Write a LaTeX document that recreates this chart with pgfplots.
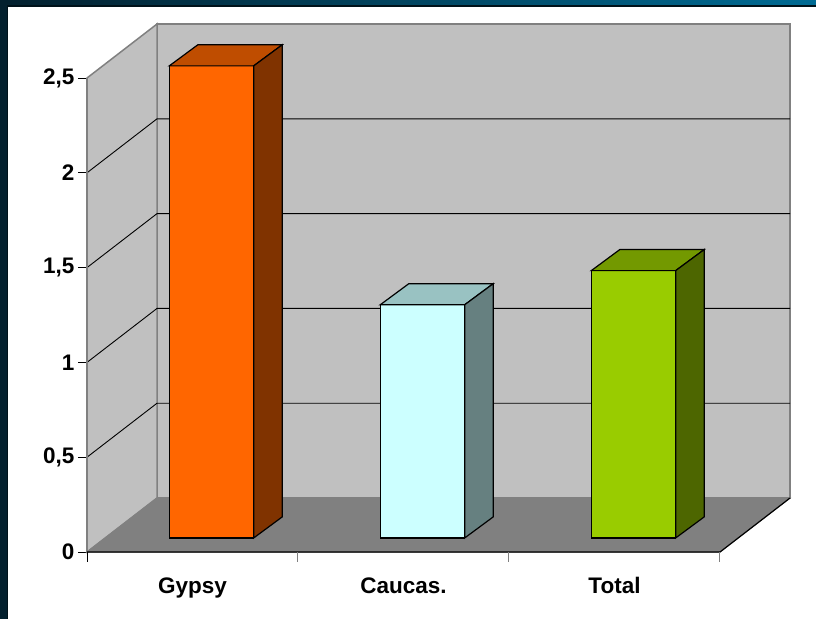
\documentclass[border=0pt]{standalone}
\usepackage{fontspec}
\setmainfont{Liberation Sans}
\usepackage{pgfplots}
\pgfplotsset{compat=1.18}
\definecolor{frameA}{HTML}{03202E}
\definecolor{frameB}{HTML}{006B94}
\definecolor{frameD}{HTML}{00121A}
\definecolor{wall}{HTML}{C0C0C0}
\definecolor{wallE}{HTML}{808080}
\definecolor{floorc}{HTML}{808080}
\definecolor{gypF}{HTML}{FF6600}
\definecolor{gypT}{HTML}{BF4D00}
\definecolor{gypS}{HTML}{803300}
\definecolor{cauF}{HTML}{CCFFFF}
\definecolor{cauT}{HTML}{99C2C2}
\definecolor{cauS}{HTML}{668080}
\definecolor{totF}{HTML}{99CC00}
\definecolor{totT}{HTML}{739900}
\definecolor{totS}{HTML}{4D6600}
\begin{document}
\begin{tikzpicture}[x=1pt,y=1pt]
\useasboundingbox (0,0) rectangle (816,-619);
\fill[white] (0,0) rectangle (816,-619);
\shade[left color=frameA, right color=frameB] (0,0) rectangle (816,-6);
\fill[frameA] (0,0) rectangle (8,-619);
\draw[frameD, line width=1.2pt] (7.4,-6) -- (816,-6);
\draw[frameD, line width=1.2pt] (7.4,-6) -- (7.4,-619);
\coordinate (A) at (87,-552);
\begin{axis}[at={(A)}, anchor=south west, scale only axis,
  width=703pt, height=528pt,
  xmin=-0.5, xmax=2.8319, ymin=0, ymax=2.7848,
  axis lines*=left, axis line style={draw=none}, clip=false,
  xtick={0,1,2}, xticklabels={Gypsy,Caucas.,Total},
  ytick={0,0.5,1,1.5,2,2.5}, yticklabels={0,{0,5},1,{1,5},2,{2,5}},
  tick align=outside, major tick length=9pt,
  xtick style={draw=none}, ytick style={black, line width=1pt},
  tick label style={font=\fontsize{22.5}{26}\selectfont\bfseries},
  xticklabel style={yshift=-13pt}]
% walls
\addplot[fill=wall, draw=wallE, line width=1.5pt] coordinates {(-0.1681,0.2848) (2.8319,0.2848) (2.8319,2.7848) (-0.1681,2.7848)} -- cycle;
\addplot[fill=wall, draw=wallE, line width=1.5pt] coordinates {(-0.5,0) (-0.5,2.5) (-0.1681,2.7848) (-0.1681,0.2848)} -- cycle;
\addplot[fill=floorc, draw=wallE, line width=1pt] coordinates {(-0.5,0) (2.5,0) (2.8319,0.2848) (-0.1681,0.2848)} -- cycle;
% gridlines
\addplot[black, line width=0.9pt] coordinates {(-0.5,0.5) (-0.1681,0.7848) (2.8319,0.7848)};
\addplot[black, line width=0.9pt] coordinates {(-0.5,1.0) (-0.1681,1.2848) (2.8319,1.2848)};
\addplot[black, line width=0.9pt] coordinates {(-0.5,1.5) (-0.1681,1.7848) (2.8319,1.7848)};
\addplot[black, line width=0.9pt] coordinates {(-0.5,2.0) (-0.1681,2.2848) (2.8319,2.2848)};
% Gypsy 2.49
\addplot[fill=gypF, draw=black, line width=1.2pt] coordinates {(-0.11,0.074) (0.29,0.074) (0.29,2.564) (-0.11,2.564)} -- cycle;
\addplot[fill=gypT, draw=black, line width=1.2pt] coordinates {(-0.11,2.564) (0.29,2.564) (0.425,2.675) (0.025,2.675)} -- cycle;
\addplot[fill=gypS, draw=black, line width=1.2pt] coordinates {(0.29,0.074) (0.425,0.185) (0.425,2.675) (0.29,2.564)} -- cycle;
% Caucas. 1.23
\addplot[fill=cauF, draw=black, line width=1.2pt] coordinates {(0.89,0.074) (1.29,0.074) (1.29,1.304) (0.89,1.304)} -- cycle;
\addplot[fill=cauT, draw=black, line width=1.2pt] coordinates {(0.89,1.304) (1.29,1.304) (1.425,1.415) (1.025,1.415)} -- cycle;
\addplot[fill=cauS, draw=black, line width=1.2pt] coordinates {(1.29,0.074) (1.425,0.185) (1.425,1.415) (1.29,1.304)} -- cycle;
% Total 1.41
\addplot[fill=totF, draw=black, line width=1.2pt] coordinates {(1.89,0.074) (2.29,0.074) (2.29,1.484) (1.89,1.484)} -- cycle;
\addplot[fill=totT, draw=black, line width=1.2pt] coordinates {(1.89,1.484) (2.29,1.484) (2.425,1.595) (2.025,1.595)} -- cycle;
\addplot[fill=totS, draw=black, line width=1.2pt] coordinates {(2.29,0.074) (2.425,0.185) (2.425,1.595) (2.29,1.484)} -- cycle;
% front edges
\addplot[wallE, line width=1.5pt] coordinates {(-0.5,0) (-0.5,2.5)};
\addplot[black, line width=1.2pt] coordinates {(-0.5,0) (2.5,0) (2.8319,0.2848)};
\draw[black, line width=1pt] (axis cs:-0.5,0) -- ++(0pt,-10pt);
\draw[gray, line width=1pt] (axis cs:0.5,0) -- ++(0pt,-10pt);
\draw[gray, line width=1pt] (axis cs:1.5,0) -- ++(0pt,-10pt);
\draw[gray, line width=1pt] (axis cs:2.5,0) -- ++(0pt,-10pt);
\end{axis}
\end{tikzpicture}
\end{document}
